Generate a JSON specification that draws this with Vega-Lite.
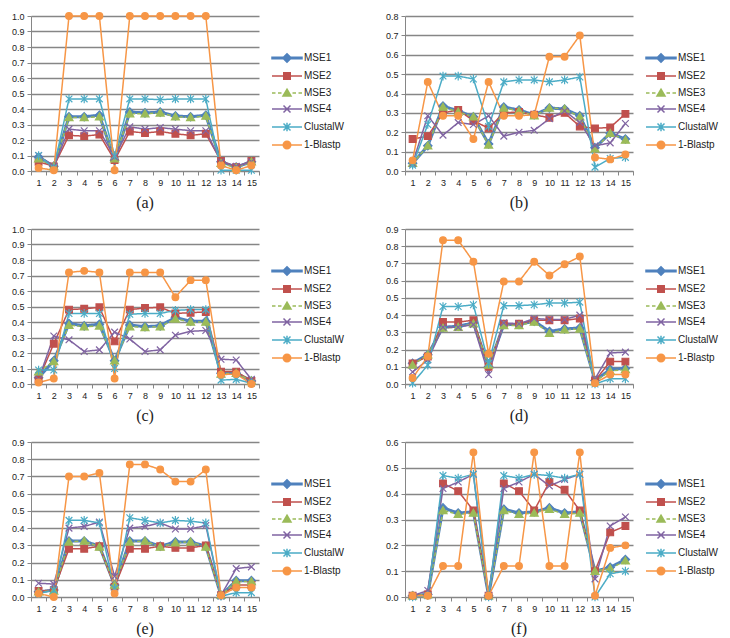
{
"$schema": "https://vega.github.io/schema/vega-lite/v6.json",
"padding": {"left": 11, "top": 10, "right": 5, "bottom": 0},
"background": "white",
"datasets": {
"a": [
{"x":1,"s":"MSE1","v":0.09},{"x":2,"s":"MSE1","v":0.03},{"x":3,"s":"MSE1","v":0.35},{"x":4,"s":"MSE1","v":0.35},{"x":5,"s":"MSE1","v":0.36},{"x":6,"s":"MSE1","v":0.07},{"x":7,"s":"MSE1","v":0.38},{"x":8,"s":"MSE1","v":0.375},{"x":9,"s":"MSE1","v":0.38},{"x":10,"s":"MSE1","v":0.355},{"x":11,"s":"MSE1","v":0.35},{"x":12,"s":"MSE1","v":0.36},{"x":13,"s":"MSE1","v":0.06},{"x":14,"s":"MSE1","v":0.025},{"x":15,"s":"MSE1","v":0.06},
{"x":1,"s":"MSE2","v":0.06},{"x":2,"s":"MSE2","v":0.03},{"x":3,"s":"MSE2","v":0.23},{"x":4,"s":"MSE2","v":0.225},{"x":5,"s":"MSE2","v":0.235},{"x":6,"s":"MSE2","v":0.07},{"x":7,"s":"MSE2","v":0.255},{"x":8,"s":"MSE2","v":0.245},{"x":9,"s":"MSE2","v":0.255},{"x":10,"s":"MSE2","v":0.24},{"x":11,"s":"MSE2","v":0.23},{"x":12,"s":"MSE2","v":0.24},{"x":13,"s":"MSE2","v":0.065},{"x":14,"s":"MSE2","v":0.025},{"x":15,"s":"MSE2","v":0.065},
{"x":1,"s":"MSE3","v":0.08},{"x":2,"s":"MSE3","v":0.03},{"x":3,"s":"MSE3","v":0.345},{"x":4,"s":"MSE3","v":0.345},{"x":5,"s":"MSE3","v":0.35},{"x":6,"s":"MSE3","v":0.08},{"x":7,"s":"MSE3","v":0.37},{"x":8,"s":"MSE3","v":0.37},{"x":9,"s":"MSE3","v":0.375},{"x":10,"s":"MSE3","v":0.35},{"x":11,"s":"MSE3","v":0.345},{"x":12,"s":"MSE3","v":0.355},{"x":13,"s":"MSE3","v":0.05},{"x":14,"s":"MSE3","v":0.02},{"x":15,"s":"MSE3","v":0.06},
{"x":1,"s":"MSE4","v":0.1},{"x":2,"s":"MSE4","v":0.03},{"x":3,"s":"MSE4","v":0.27},{"x":4,"s":"MSE4","v":0.26},{"x":5,"s":"MSE4","v":0.26},{"x":6,"s":"MSE4","v":0.09},{"x":7,"s":"MSE4","v":0.285},{"x":8,"s":"MSE4","v":0.27},{"x":9,"s":"MSE4","v":0.28},{"x":10,"s":"MSE4","v":0.27},{"x":11,"s":"MSE4","v":0.26},{"x":12,"s":"MSE4","v":0.26},{"x":13,"s":"MSE4","v":0.06},{"x":14,"s":"MSE4","v":0.03},{"x":15,"s":"MSE4","v":0.06},
{"x":1,"s":"ClustalW","v":0.1},{"x":2,"s":"ClustalW","v":0.02},{"x":3,"s":"ClustalW","v":0.465},{"x":4,"s":"ClustalW","v":0.465},{"x":5,"s":"ClustalW","v":0.465},{"x":6,"s":"ClustalW","v":0.1},{"x":7,"s":"ClustalW","v":0.465},{"x":8,"s":"ClustalW","v":0.465},{"x":9,"s":"ClustalW","v":0.46},{"x":10,"s":"ClustalW","v":0.465},{"x":11,"s":"ClustalW","v":0.465},{"x":12,"s":"ClustalW","v":0.465},{"x":13,"s":"ClustalW","v":0.005},{"x":14,"s":"ClustalW","v":0.005},{"x":15,"s":"ClustalW","v":0.005},
{"x":1,"s":"1-Blastp","v":0.02},{"x":2,"s":"1-Blastp","v":0.005},{"x":3,"s":"1-Blastp","v":1},{"x":4,"s":"1-Blastp","v":1},{"x":5,"s":"1-Blastp","v":1},{"x":6,"s":"1-Blastp","v":0.005},{"x":7,"s":"1-Blastp","v":1},{"x":8,"s":"1-Blastp","v":1},{"x":9,"s":"1-Blastp","v":1},{"x":10,"s":"1-Blastp","v":1},{"x":11,"s":"1-Blastp","v":1},{"x":12,"s":"1-Blastp","v":1},{"x":13,"s":"1-Blastp","v":0.035},{"x":14,"s":"1-Blastp","v":0.005},{"x":15,"s":"1-Blastp","v":0.035}
],
"b": [
{"x":1,"s":"MSE1","v":0.04},{"x":2,"s":"MSE1","v":0.13},{"x":3,"s":"MSE1","v":0.335},{"x":4,"s":"MSE1","v":0.31},{"x":5,"s":"MSE1","v":0.28},{"x":6,"s":"MSE1","v":0.14},{"x":7,"s":"MSE1","v":0.33},{"x":8,"s":"MSE1","v":0.315},{"x":9,"s":"MSE1","v":0.29},{"x":10,"s":"MSE1","v":0.325},{"x":11,"s":"MSE1","v":0.32},{"x":12,"s":"MSE1","v":0.285},{"x":13,"s":"MSE1","v":0.12},{"x":14,"s":"MSE1","v":0.195},{"x":15,"s":"MSE1","v":0.165},
{"x":1,"s":"MSE2","v":0.165},{"x":2,"s":"MSE2","v":0.18},{"x":3,"s":"MSE2","v":0.3},{"x":4,"s":"MSE2","v":0.315},{"x":5,"s":"MSE2","v":0.26},{"x":6,"s":"MSE2","v":0.22},{"x":7,"s":"MSE2","v":0.3},{"x":8,"s":"MSE2","v":0.305},{"x":9,"s":"MSE2","v":0.29},{"x":10,"s":"MSE2","v":0.275},{"x":11,"s":"MSE2","v":0.3},{"x":12,"s":"MSE2","v":0.23},{"x":13,"s":"MSE2","v":0.22},{"x":14,"s":"MSE2","v":0.225},{"x":15,"s":"MSE2","v":0.295},
{"x":1,"s":"MSE3","v":0.04},{"x":2,"s":"MSE3","v":0.13},{"x":3,"s":"MSE3","v":0.33},{"x":4,"s":"MSE3","v":0.305},{"x":5,"s":"MSE3","v":0.28},{"x":6,"s":"MSE3","v":0.135},{"x":7,"s":"MSE3","v":0.325},{"x":8,"s":"MSE3","v":0.31},{"x":9,"s":"MSE3","v":0.285},{"x":10,"s":"MSE3","v":0.325},{"x":11,"s":"MSE3","v":0.32},{"x":12,"s":"MSE3","v":0.28},{"x":13,"s":"MSE3","v":0.115},{"x":14,"s":"MSE3","v":0.195},{"x":15,"s":"MSE3","v":0.16},
{"x":1,"s":"MSE4","v":0.04},{"x":2,"s":"MSE4","v":0.285},{"x":3,"s":"MSE4","v":0.185},{"x":4,"s":"MSE4","v":0.25},{"x":5,"s":"MSE4","v":0.24},{"x":6,"s":"MSE4","v":0.285},{"x":7,"s":"MSE4","v":0.18},{"x":8,"s":"MSE4","v":0.2},{"x":9,"s":"MSE4","v":0.21},{"x":10,"s":"MSE4","v":0.27},{"x":11,"s":"MSE4","v":0.31},{"x":12,"s":"MSE4","v":0.25},{"x":13,"s":"MSE4","v":0.13},{"x":14,"s":"MSE4","v":0.145},{"x":15,"s":"MSE4","v":0.245},
{"x":1,"s":"ClustalW","v":0.03},{"x":2,"s":"ClustalW","v":0.24},{"x":3,"s":"ClustalW","v":0.49},{"x":4,"s":"ClustalW","v":0.49},{"x":5,"s":"ClustalW","v":0.475},{"x":6,"s":"ClustalW","v":0.23},{"x":7,"s":"ClustalW","v":0.46},{"x":8,"s":"ClustalW","v":0.47},{"x":9,"s":"ClustalW","v":0.47},{"x":10,"s":"ClustalW","v":0.46},{"x":11,"s":"ClustalW","v":0.47},{"x":12,"s":"ClustalW","v":0.485},{"x":13,"s":"ClustalW","v":0.02},{"x":14,"s":"ClustalW","v":0.065},{"x":15,"s":"ClustalW","v":0.07},
{"x":1,"s":"1-Blastp","v":0.055},{"x":2,"s":"1-Blastp","v":0.46},{"x":3,"s":"1-Blastp","v":0.285},{"x":4,"s":"1-Blastp","v":0.285},{"x":5,"s":"1-Blastp","v":0.165},{"x":6,"s":"1-Blastp","v":0.46},{"x":7,"s":"1-Blastp","v":0.285},{"x":8,"s":"1-Blastp","v":0.285},{"x":9,"s":"1-Blastp","v":0.29},{"x":10,"s":"1-Blastp","v":0.59},{"x":11,"s":"1-Blastp","v":0.59},{"x":12,"s":"1-Blastp","v":0.7},{"x":13,"s":"1-Blastp","v":0.07},{"x":14,"s":"1-Blastp","v":0.06},{"x":15,"s":"1-Blastp","v":0.085}
],
"c": [
{"x":1,"s":"MSE1","v":0.04},{"x":2,"s":"MSE1","v":0.15},{"x":3,"s":"MSE1","v":0.39},{"x":4,"s":"MSE1","v":0.375},{"x":5,"s":"MSE1","v":0.385},{"x":6,"s":"MSE1","v":0.15},{"x":7,"s":"MSE1","v":0.38},{"x":8,"s":"MSE1","v":0.37},{"x":9,"s":"MSE1","v":0.375},{"x":10,"s":"MSE1","v":0.43},{"x":11,"s":"MSE1","v":0.405},{"x":12,"s":"MSE1","v":0.405},{"x":13,"s":"MSE1","v":0.07},{"x":14,"s":"MSE1","v":0.07},{"x":15,"s":"MSE1","v":0.02},
{"x":1,"s":"MSE2","v":0.03},{"x":2,"s":"MSE2","v":0.26},{"x":3,"s":"MSE2","v":0.48},{"x":4,"s":"MSE2","v":0.485},{"x":5,"s":"MSE2","v":0.495},{"x":6,"s":"MSE2","v":0.275},{"x":7,"s":"MSE2","v":0.48},{"x":8,"s":"MSE2","v":0.49},{"x":9,"s":"MSE2","v":0.495},{"x":10,"s":"MSE2","v":0.455},{"x":11,"s":"MSE2","v":0.46},{"x":12,"s":"MSE2","v":0.465},{"x":13,"s":"MSE2","v":0.08},{"x":14,"s":"MSE2","v":0.08},{"x":15,"s":"MSE2","v":0.02},
{"x":1,"s":"MSE3","v":0.08},{"x":2,"s":"MSE3","v":0.145},{"x":3,"s":"MSE3","v":0.38},{"x":4,"s":"MSE3","v":0.37},{"x":5,"s":"MSE3","v":0.375},{"x":6,"s":"MSE3","v":0.15},{"x":7,"s":"MSE3","v":0.37},{"x":8,"s":"MSE3","v":0.365},{"x":9,"s":"MSE3","v":0.37},{"x":10,"s":"MSE3","v":0.42},{"x":11,"s":"MSE3","v":0.4},{"x":12,"s":"MSE3","v":0.4},{"x":13,"s":"MSE3","v":0.065},{"x":14,"s":"MSE3","v":0.07},{"x":15,"s":"MSE3","v":0.02},
{"x":1,"s":"MSE4","v":0.03},{"x":2,"s":"MSE4","v":0.31},{"x":3,"s":"MSE4","v":0.285},{"x":4,"s":"MSE4","v":0.21},{"x":5,"s":"MSE4","v":0.22},{"x":6,"s":"MSE4","v":0.335},{"x":7,"s":"MSE4","v":0.29},{"x":8,"s":"MSE4","v":0.21},{"x":9,"s":"MSE4","v":0.22},{"x":10,"s":"MSE4","v":0.315},{"x":11,"s":"MSE4","v":0.34},{"x":12,"s":"MSE4","v":0.345},{"x":13,"s":"MSE4","v":0.16},{"x":14,"s":"MSE4","v":0.155},{"x":15,"s":"MSE4","v":0.03},
{"x":1,"s":"ClustalW","v":0.09},{"x":2,"s":"ClustalW","v":0.09},{"x":3,"s":"ClustalW","v":0.455},{"x":4,"s":"ClustalW","v":0.455},{"x":5,"s":"ClustalW","v":0.455},{"x":6,"s":"ClustalW","v":0.1},{"x":7,"s":"ClustalW","v":0.45},{"x":8,"s":"ClustalW","v":0.455},{"x":9,"s":"ClustalW","v":0.455},{"x":10,"s":"ClustalW","v":0.475},{"x":11,"s":"ClustalW","v":0.48},{"x":12,"s":"ClustalW","v":0.48},{"x":13,"s":"ClustalW","v":0.025},{"x":14,"s":"ClustalW","v":0.03},{"x":15,"s":"ClustalW","v":0.005},
{"x":1,"s":"1-Blastp","v":0.01},{"x":2,"s":"1-Blastp","v":0.035},{"x":3,"s":"1-Blastp","v":0.72},{"x":4,"s":"1-Blastp","v":0.73},{"x":5,"s":"1-Blastp","v":0.72},{"x":6,"s":"1-Blastp","v":0.035},{"x":7,"s":"1-Blastp","v":0.72},{"x":8,"s":"1-Blastp","v":0.72},{"x":9,"s":"1-Blastp","v":0.72},{"x":10,"s":"1-Blastp","v":0.56},{"x":11,"s":"1-Blastp","v":0.67},{"x":12,"s":"1-Blastp","v":0.67},{"x":13,"s":"1-Blastp","v":0.06},{"x":14,"s":"1-Blastp","v":0.065},{"x":15,"s":"1-Blastp","v":0.0}
],
"d": [
{"x":1,"s":"MSE1","v":0.12},{"x":2,"s":"MSE1","v":0.17},{"x":3,"s":"MSE1","v":0.33},{"x":4,"s":"MSE1","v":0.335},{"x":5,"s":"MSE1","v":0.355},{"x":6,"s":"MSE1","v":0.1},{"x":7,"s":"MSE1","v":0.345},{"x":8,"s":"MSE1","v":0.345},{"x":9,"s":"MSE1","v":0.365},{"x":10,"s":"MSE1","v":0.305},{"x":11,"s":"MSE1","v":0.32},{"x":12,"s":"MSE1","v":0.325},{"x":13,"s":"MSE1","v":0.02},{"x":14,"s":"MSE1","v":0.085},{"x":15,"s":"MSE1","v":0.09},
{"x":1,"s":"MSE2","v":0.12},{"x":2,"s":"MSE2","v":0.16},{"x":3,"s":"MSE2","v":0.36},{"x":4,"s":"MSE2","v":0.36},{"x":5,"s":"MSE2","v":0.37},{"x":6,"s":"MSE2","v":0.1},{"x":7,"s":"MSE2","v":0.35},{"x":8,"s":"MSE2","v":0.35},{"x":9,"s":"MSE2","v":0.37},{"x":10,"s":"MSE2","v":0.37},{"x":11,"s":"MSE2","v":0.37},{"x":12,"s":"MSE2","v":0.38},{"x":13,"s":"MSE2","v":0.02},{"x":14,"s":"MSE2","v":0.13},{"x":15,"s":"MSE2","v":0.13},
{"x":1,"s":"MSE3","v":0.11},{"x":2,"s":"MSE3","v":0.17},{"x":3,"s":"MSE3","v":0.325},{"x":4,"s":"MSE3","v":0.33},{"x":5,"s":"MSE3","v":0.35},{"x":6,"s":"MSE3","v":0.11},{"x":7,"s":"MSE3","v":0.34},{"x":8,"s":"MSE3","v":0.34},{"x":9,"s":"MSE3","v":0.36},{"x":10,"s":"MSE3","v":0.295},{"x":11,"s":"MSE3","v":0.315},{"x":12,"s":"MSE3","v":0.32},{"x":13,"s":"MSE3","v":0.015},{"x":14,"s":"MSE3","v":0.075},{"x":15,"s":"MSE3","v":0.085},
{"x":1,"s":"MSE4","v":0.07},{"x":2,"s":"MSE4","v":0.14},{"x":3,"s":"MSE4","v":0.33},{"x":4,"s":"MSE4","v":0.33},{"x":5,"s":"MSE4","v":0.345},{"x":6,"s":"MSE4","v":0.055},{"x":7,"s":"MSE4","v":0.355},{"x":8,"s":"MSE4","v":0.35},{"x":9,"s":"MSE4","v":0.38},{"x":10,"s":"MSE4","v":0.375},{"x":11,"s":"MSE4","v":0.375},{"x":12,"s":"MSE4","v":0.4},{"x":13,"s":"MSE4","v":0.03},{"x":14,"s":"MSE4","v":0.18},{"x":15,"s":"MSE4","v":0.185},
{"x":1,"s":"ClustalW","v":0.005},{"x":2,"s":"ClustalW","v":0.11},{"x":3,"s":"ClustalW","v":0.45},{"x":4,"s":"ClustalW","v":0.45},{"x":5,"s":"ClustalW","v":0.46},{"x":6,"s":"ClustalW","v":0.12},{"x":7,"s":"ClustalW","v":0.455},{"x":8,"s":"ClustalW","v":0.455},{"x":9,"s":"ClustalW","v":0.46},{"x":10,"s":"ClustalW","v":0.47},{"x":11,"s":"ClustalW","v":0.47},{"x":12,"s":"ClustalW","v":0.475},{"x":13,"s":"ClustalW","v":0.0},{"x":14,"s":"ClustalW","v":0.03},{"x":15,"s":"ClustalW","v":0.03},
{"x":1,"s":"1-Blastp","v":0.035},{"x":2,"s":"1-Blastp","v":0.16},{"x":3,"s":"1-Blastp","v":0.835},{"x":4,"s":"1-Blastp","v":0.835},{"x":5,"s":"1-Blastp","v":0.71},{"x":6,"s":"1-Blastp","v":0.175},{"x":7,"s":"1-Blastp","v":0.595},{"x":8,"s":"1-Blastp","v":0.595},{"x":9,"s":"1-Blastp","v":0.71},{"x":10,"s":"1-Blastp","v":0.63},{"x":11,"s":"1-Blastp","v":0.695},{"x":12,"s":"1-Blastp","v":0.74},{"x":13,"s":"1-Blastp","v":0.005},{"x":14,"s":"1-Blastp","v":0.055},{"x":15,"s":"1-Blastp","v":0.055}
],
"e": [
{"x":1,"s":"MSE1","v":0.03},{"x":2,"s":"MSE1","v":0.04},{"x":3,"s":"MSE1","v":0.325},{"x":4,"s":"MSE1","v":0.325},{"x":5,"s":"MSE1","v":0.295},{"x":6,"s":"MSE1","v":0.07},{"x":7,"s":"MSE1","v":0.325},{"x":8,"s":"MSE1","v":0.325},{"x":9,"s":"MSE1","v":0.295},{"x":10,"s":"MSE1","v":0.32},{"x":11,"s":"MSE1","v":0.32},{"x":12,"s":"MSE1","v":0.295},{"x":13,"s":"MSE1","v":0.01},{"x":14,"s":"MSE1","v":0.095},{"x":15,"s":"MSE1","v":0.095},
{"x":1,"s":"MSE2","v":0.035},{"x":2,"s":"MSE2","v":0.04},{"x":3,"s":"MSE2","v":0.28},{"x":4,"s":"MSE2","v":0.28},{"x":5,"s":"MSE2","v":0.295},{"x":6,"s":"MSE2","v":0.06},{"x":7,"s":"MSE2","v":0.28},{"x":8,"s":"MSE2","v":0.28},{"x":9,"s":"MSE2","v":0.295},{"x":10,"s":"MSE2","v":0.285},{"x":11,"s":"MSE2","v":0.285},{"x":12,"s":"MSE2","v":0.3},{"x":13,"s":"MSE2","v":0.01},{"x":14,"s":"MSE2","v":0.07},{"x":15,"s":"MSE2","v":0.07},
{"x":1,"s":"MSE3","v":0.03},{"x":2,"s":"MSE3","v":0.035},{"x":3,"s":"MSE3","v":0.32},{"x":4,"s":"MSE3","v":0.325},{"x":5,"s":"MSE3","v":0.29},{"x":6,"s":"MSE3","v":0.07},{"x":7,"s":"MSE3","v":0.32},{"x":8,"s":"MSE3","v":0.325},{"x":9,"s":"MSE3","v":0.29},{"x":10,"s":"MSE3","v":0.315},{"x":11,"s":"MSE3","v":0.32},{"x":12,"s":"MSE3","v":0.29},{"x":13,"s":"MSE3","v":0.01},{"x":14,"s":"MSE3","v":0.09},{"x":15,"s":"MSE3","v":0.09},
{"x":1,"s":"MSE4","v":0.08},{"x":2,"s":"MSE4","v":0.075},{"x":3,"s":"MSE4","v":0.4},{"x":4,"s":"MSE4","v":0.41},{"x":5,"s":"MSE4","v":0.435},{"x":6,"s":"MSE4","v":0.12},{"x":7,"s":"MSE4","v":0.4},{"x":8,"s":"MSE4","v":0.41},{"x":9,"s":"MSE4","v":0.43},{"x":10,"s":"MSE4","v":0.395},{"x":11,"s":"MSE4","v":0.395},{"x":12,"s":"MSE4","v":0.415},{"x":13,"s":"MSE4","v":0.01},{"x":14,"s":"MSE4","v":0.165},{"x":15,"s":"MSE4","v":0.175},
{"x":1,"s":"ClustalW","v":0.02},{"x":2,"s":"ClustalW","v":0.04},{"x":3,"s":"ClustalW","v":0.445},{"x":4,"s":"ClustalW","v":0.445},{"x":5,"s":"ClustalW","v":0.43},{"x":6,"s":"ClustalW","v":0.05},{"x":7,"s":"ClustalW","v":0.46},{"x":8,"s":"ClustalW","v":0.445},{"x":9,"s":"ClustalW","v":0.43},{"x":10,"s":"ClustalW","v":0.445},{"x":11,"s":"ClustalW","v":0.44},{"x":12,"s":"ClustalW","v":0.43},{"x":13,"s":"ClustalW","v":0.005},{"x":14,"s":"ClustalW","v":0.025},{"x":15,"s":"ClustalW","v":0.025},
{"x":1,"s":"1-Blastp","v":0.02},{"x":2,"s":"1-Blastp","v":0.0},{"x":3,"s":"1-Blastp","v":0.7},{"x":4,"s":"1-Blastp","v":0.7},{"x":5,"s":"1-Blastp","v":0.72},{"x":6,"s":"1-Blastp","v":0.02},{"x":7,"s":"1-Blastp","v":0.77},{"x":8,"s":"1-Blastp","v":0.77},{"x":9,"s":"1-Blastp","v":0.74},{"x":10,"s":"1-Blastp","v":0.67},{"x":11,"s":"1-Blastp","v":0.67},{"x":12,"s":"1-Blastp","v":0.74},{"x":13,"s":"1-Blastp","v":0.01},{"x":14,"s":"1-Blastp","v":0.055},{"x":15,"s":"1-Blastp","v":0.055}
],
"f": [
{"x":1,"s":"MSE1","v":0.005},{"x":2,"s":"MSE1","v":0.01},{"x":3,"s":"MSE1","v":0.345},{"x":4,"s":"MSE1","v":0.325},{"x":5,"s":"MSE1","v":0.33},{"x":6,"s":"MSE1","v":0.005},{"x":7,"s":"MSE1","v":0.34},{"x":8,"s":"MSE1","v":0.325},{"x":9,"s":"MSE1","v":0.33},{"x":10,"s":"MSE1","v":0.345},{"x":11,"s":"MSE1","v":0.325},{"x":12,"s":"MSE1","v":0.33},{"x":13,"s":"MSE1","v":0.1},{"x":14,"s":"MSE1","v":0.115},{"x":15,"s":"MSE1","v":0.145},
{"x":1,"s":"MSE2","v":0.005},{"x":2,"s":"MSE2","v":0.01},{"x":3,"s":"MSE2","v":0.44},{"x":4,"s":"MSE2","v":0.41},{"x":5,"s":"MSE2","v":0.335},{"x":6,"s":"MSE2","v":0.005},{"x":7,"s":"MSE2","v":0.44},{"x":8,"s":"MSE2","v":0.41},{"x":9,"s":"MSE2","v":0.335},{"x":10,"s":"MSE2","v":0.445},{"x":11,"s":"MSE2","v":0.415},{"x":12,"s":"MSE2","v":0.335},{"x":13,"s":"MSE2","v":0.1},{"x":14,"s":"MSE2","v":0.25},{"x":15,"s":"MSE2","v":0.275},
{"x":1,"s":"MSE3","v":0.005},{"x":2,"s":"MSE3","v":0.01},{"x":3,"s":"MSE3","v":0.335},{"x":4,"s":"MSE3","v":0.32},{"x":5,"s":"MSE3","v":0.325},{"x":6,"s":"MSE3","v":0.005},{"x":7,"s":"MSE3","v":0.335},{"x":8,"s":"MSE3","v":0.32},{"x":9,"s":"MSE3","v":0.325},{"x":10,"s":"MSE3","v":0.34},{"x":11,"s":"MSE3","v":0.32},{"x":12,"s":"MSE3","v":0.325},{"x":13,"s":"MSE3","v":0.1},{"x":14,"s":"MSE3","v":0.11},{"x":15,"s":"MSE3","v":0.14},
{"x":1,"s":"MSE4","v":0.005},{"x":2,"s":"MSE4","v":0.025},{"x":3,"s":"MSE4","v":0.42},{"x":4,"s":"MSE4","v":0.445},{"x":5,"s":"MSE4","v":0.475},{"x":6,"s":"MSE4","v":0.005},{"x":7,"s":"MSE4","v":0.42},{"x":8,"s":"MSE4","v":0.445},{"x":9,"s":"MSE4","v":0.475},{"x":10,"s":"MSE4","v":0.43},{"x":11,"s":"MSE4","v":0.455},{"x":12,"s":"MSE4","v":0.475},{"x":13,"s":"MSE4","v":0.07},{"x":14,"s":"MSE4","v":0.275},{"x":15,"s":"MSE4","v":0.31},
{"x":1,"s":"ClustalW","v":0.0},{"x":2,"s":"ClustalW","v":0.005},{"x":3,"s":"ClustalW","v":0.47},{"x":4,"s":"ClustalW","v":0.46},{"x":5,"s":"ClustalW","v":0.475},{"x":6,"s":"ClustalW","v":0.0},{"x":7,"s":"ClustalW","v":0.47},{"x":8,"s":"ClustalW","v":0.46},{"x":9,"s":"ClustalW","v":0.475},{"x":10,"s":"ClustalW","v":0.47},{"x":11,"s":"ClustalW","v":0.46},{"x":12,"s":"ClustalW","v":0.475},{"x":13,"s":"ClustalW","v":0.0},{"x":14,"s":"ClustalW","v":0.09},{"x":15,"s":"ClustalW","v":0.1},
{"x":1,"s":"1-Blastp","v":0.005},{"x":2,"s":"1-Blastp","v":0.005},{"x":3,"s":"1-Blastp","v":0.12},{"x":4,"s":"1-Blastp","v":0.12},{"x":5,"s":"1-Blastp","v":0.56},{"x":6,"s":"1-Blastp","v":0.005},{"x":7,"s":"1-Blastp","v":0.12},{"x":8,"s":"1-Blastp","v":0.12},{"x":9,"s":"1-Blastp","v":0.56},{"x":10,"s":"1-Blastp","v":0.12},{"x":11,"s":"1-Blastp","v":0.12},{"x":12,"s":"1-Blastp","v":0.56},{"x":13,"s":"1-Blastp","v":0.005},{"x":14,"s":"1-Blastp","v":0.19},{"x":15,"s":"1-Blastp","v":0.2}
]
},
"columns": 2,
"spacing": {"row": 14, "column": 40},
"resolve": {"scale": {"color": "independent", "stroke": "independent", "shape": "independent"}, "legend": {"color": "independent", "stroke": "independent", "shape": "independent"}},
"concat": [
{"data": {"name": "a"}, "title": "(a)", "width": 228, "height": 155,
 "encoding": {
  "x": {"field": "x", "type": "ordinal", "scale": {"type": "band", "domain": [1,2,3,4,5,6,7,8,9,10,11,12,13,14,15], "paddingInner": 0, "paddingOuter": 0}, "axis": {"title": null, "labelAngle": 0, "tickBand": "extent"}},
  "y": {"field": "v", "type": "quantitative", "scale": {"domain": [0, 1], "nice": false}, "axis": {"title": null, "values": [0,0.1,0.2,0.3,0.4,0.5,0.6,0.7,0.8,0.9,1.0], "format": ".1f"}}
 },
 "layer": [
  {"mark": {"type": "line", "strokeJoin": "round"}, "encoding": {
    "color": {"field": "s", "type": "nominal", "scale": {"domain": ["MSE1","MSE2","MSE3","MSE4","ClustalW","1-Blastp"], "range": ["#4F81BD","#C0504D","#9BBB59","#8064A2","#4BACC6","#F79646"]}},
    "strokeWidth": {"condition": {"test": "datum.s==='MSE1'", "value": 3}, "value": 1.5},
    "strokeDash": {"condition": {"test": "datum.s==='MSE3'", "value": [4,2]}, "value": [1,0]}
  }},
  {"mark": {"type": "point", "filled": true, "size": 45, "strokeWidth": 1.2, "opacity": 1}, "encoding": {
    "color": {"field": "s", "type": "nominal"},
    "stroke": {"field": "s", "type": "nominal", "scale": {"domain": ["MSE1","MSE2","MSE3","MSE4","ClustalW","1-Blastp"], "range": ["#4F81BD","#C0504D","#9BBB59","#8064A2","#4BACC6","#F79646"]}},
    "shape": {"condition": [{"test": "datum.s==='MSE1'", "value": "M0,-1.25L1.25,0L0,1.25L-1.25,0Z"}, {"test": "datum.s==='MSE2'", "value": "M-1,-1H1V1H-1Z"}, {"test": "datum.s==='MSE3'", "value": "M0,-1.15L1.2,0.95H-1.2Z"}, {"test": "datum.s==='MSE4'", "value": "M-1,-1L1,1M-1,1L1,-1"}, {"test": "datum.s==='ClustalW'", "value": "M-1,-1L1,1M-1,1L1,-1M0,-1.3V1.3"}], "value": "circle"}
  }},
  {"transform": [{"filter": "false"}], "mark": {"type": "point", "filled": true}, "encoding": {
    "color": {"field": "s", "type": "nominal", "legend": {"title": null, "orient": "none", "legendX": 250, "legendY": 36}},
    "stroke": {"field": "s", "type": "nominal", "legend": {"title": null, "orient": "none", "legendX": 250, "legendY": 36}},
    "shape": {"field": "s", "type": "nominal", "scale": {"domain": ["MSE1","MSE2","MSE3","MSE4","ClustalW","1-Blastp"], "range": ["M-3,-0.15H3V0.15H-3Z M0,-0.85L0.85,0L0,0.85L-0.85,0Z","M-3,0H3M-0.65,-0.65H0.65V0.65H-0.65Z","M-3,0H-2.3M-1.8,0H-1.1M1.1,0H1.8M2.3,0H3M0,-0.75L0.8,0.6H-0.8Z","M-3,0H3M-0.7,-0.7L0.7,0.7M-0.7,0.7L0.7,-0.7","M-3,0H3M-0.7,-0.7L0.7,0.7M-0.7,0.7L0.7,-0.7M0,-0.85V0.85","M-3,0H3M0.75,0A0.75,0.75,0,1,1,-0.75,0A0.75,0.75,0,1,1,0.75,0Z"]}, "legend": {"title": null, "orient": "none", "legendX": 250, "legendY": 36}}
  }}
 ]
},
{"data": {"name": "b"}, "title": "(b)", "width": 228, "height": 155,
 "encoding": {
  "x": {"field": "x", "type": "ordinal", "scale": {"type": "band", "domain": [1,2,3,4,5,6,7,8,9,10,11,12,13,14,15], "paddingInner": 0, "paddingOuter": 0}, "axis": {"title": null, "labelAngle": 0, "tickBand": "extent"}},
  "y": {"field": "v", "type": "quantitative", "scale": {"domain": [0, 0.8], "nice": false}, "axis": {"title": null, "values": [0,0.1,0.2,0.3,0.4,0.5,0.6,0.7,0.8], "format": ".1f"}}
 },
 "layer": [
  {"mark": {"type": "line", "strokeJoin": "round"}, "encoding": {
    "color": {"field": "s", "type": "nominal", "scale": {"domain": ["MSE1","MSE2","MSE3","MSE4","ClustalW","1-Blastp"], "range": ["#4F81BD","#C0504D","#9BBB59","#8064A2","#4BACC6","#F79646"]}},
    "strokeWidth": {"condition": {"test": "datum.s==='MSE1'", "value": 3}, "value": 1.5},
    "strokeDash": {"condition": {"test": "datum.s==='MSE3'", "value": [4,2]}, "value": [1,0]}
  }},
  {"mark": {"type": "point", "filled": true, "size": 45, "strokeWidth": 1.2, "opacity": 1}, "encoding": {
    "color": {"field": "s", "type": "nominal"},
    "stroke": {"field": "s", "type": "nominal", "scale": {"domain": ["MSE1","MSE2","MSE3","MSE4","ClustalW","1-Blastp"], "range": ["#4F81BD","#C0504D","#9BBB59","#8064A2","#4BACC6","#F79646"]}},
    "shape": {"condition": [{"test": "datum.s==='MSE1'", "value": "M0,-1.25L1.25,0L0,1.25L-1.25,0Z"}, {"test": "datum.s==='MSE2'", "value": "M-1,-1H1V1H-1Z"}, {"test": "datum.s==='MSE3'", "value": "M0,-1.15L1.2,0.95H-1.2Z"}, {"test": "datum.s==='MSE4'", "value": "M-1,-1L1,1M-1,1L1,-1"}, {"test": "datum.s==='ClustalW'", "value": "M-1,-1L1,1M-1,1L1,-1M0,-1.3V1.3"}], "value": "circle"}
  }},
  {"transform": [{"filter": "false"}], "mark": {"type": "point", "filled": true}, "encoding": {
    "color": {"field": "s", "type": "nominal", "legend": {"title": null, "orient": "none", "legendX": 250, "legendY": 36}},
    "stroke": {"field": "s", "type": "nominal", "legend": {"title": null, "orient": "none", "legendX": 250, "legendY": 36}},
    "shape": {"field": "s", "type": "nominal", "scale": {"domain": ["MSE1","MSE2","MSE3","MSE4","ClustalW","1-Blastp"], "range": ["M-3,-0.15H3V0.15H-3Z M0,-0.85L0.85,0L0,0.85L-0.85,0Z","M-3,0H3M-0.65,-0.65H0.65V0.65H-0.65Z","M-3,0H-2.3M-1.8,0H-1.1M1.1,0H1.8M2.3,0H3M0,-0.75L0.8,0.6H-0.8Z","M-3,0H3M-0.7,-0.7L0.7,0.7M-0.7,0.7L0.7,-0.7","M-3,0H3M-0.7,-0.7L0.7,0.7M-0.7,0.7L0.7,-0.7M0,-0.85V0.85","M-3,0H3M0.75,0A0.75,0.75,0,1,1,-0.75,0A0.75,0.75,0,1,1,0.75,0Z"]}, "legend": {"title": null, "orient": "none", "legendX": 250, "legendY": 36}}
  }}
 ]
},
{"data": {"name": "c"}, "title": "(c)", "width": 228, "height": 155,
 "encoding": {
  "x": {"field": "x", "type": "ordinal", "scale": {"type": "band", "domain": [1,2,3,4,5,6,7,8,9,10,11,12,13,14,15], "paddingInner": 0, "paddingOuter": 0}, "axis": {"title": null, "labelAngle": 0, "tickBand": "extent"}},
  "y": {"field": "v", "type": "quantitative", "scale": {"domain": [0, 1], "nice": false}, "axis": {"title": null, "values": [0,0.1,0.2,0.3,0.4,0.5,0.6,0.7,0.8,0.9,1.0], "format": ".1f"}}
 },
 "layer": [
  {"mark": {"type": "line", "strokeJoin": "round"}, "encoding": {
    "color": {"field": "s", "type": "nominal", "scale": {"domain": ["MSE1","MSE2","MSE3","MSE4","ClustalW","1-Blastp"], "range": ["#4F81BD","#C0504D","#9BBB59","#8064A2","#4BACC6","#F79646"]}},
    "strokeWidth": {"condition": {"test": "datum.s==='MSE1'", "value": 3}, "value": 1.5},
    "strokeDash": {"condition": {"test": "datum.s==='MSE3'", "value": [4,2]}, "value": [1,0]}
  }},
  {"mark": {"type": "point", "filled": true, "size": 45, "strokeWidth": 1.2, "opacity": 1}, "encoding": {
    "color": {"field": "s", "type": "nominal"},
    "stroke": {"field": "s", "type": "nominal", "scale": {"domain": ["MSE1","MSE2","MSE3","MSE4","ClustalW","1-Blastp"], "range": ["#4F81BD","#C0504D","#9BBB59","#8064A2","#4BACC6","#F79646"]}},
    "shape": {"condition": [{"test": "datum.s==='MSE1'", "value": "M0,-1.25L1.25,0L0,1.25L-1.25,0Z"}, {"test": "datum.s==='MSE2'", "value": "M-1,-1H1V1H-1Z"}, {"test": "datum.s==='MSE3'", "value": "M0,-1.15L1.2,0.95H-1.2Z"}, {"test": "datum.s==='MSE4'", "value": "M-1,-1L1,1M-1,1L1,-1"}, {"test": "datum.s==='ClustalW'", "value": "M-1,-1L1,1M-1,1L1,-1M0,-1.3V1.3"}], "value": "circle"}
  }},
  {"transform": [{"filter": "false"}], "mark": {"type": "point", "filled": true}, "encoding": {
    "color": {"field": "s", "type": "nominal", "legend": {"title": null, "orient": "none", "legendX": 250, "legendY": 36}},
    "stroke": {"field": "s", "type": "nominal", "legend": {"title": null, "orient": "none", "legendX": 250, "legendY": 36}},
    "shape": {"field": "s", "type": "nominal", "scale": {"domain": ["MSE1","MSE2","MSE3","MSE4","ClustalW","1-Blastp"], "range": ["M-3,-0.15H3V0.15H-3Z M0,-0.85L0.85,0L0,0.85L-0.85,0Z","M-3,0H3M-0.65,-0.65H0.65V0.65H-0.65Z","M-3,0H-2.3M-1.8,0H-1.1M1.1,0H1.8M2.3,0H3M0,-0.75L0.8,0.6H-0.8Z","M-3,0H3M-0.7,-0.7L0.7,0.7M-0.7,0.7L0.7,-0.7","M-3,0H3M-0.7,-0.7L0.7,0.7M-0.7,0.7L0.7,-0.7M0,-0.85V0.85","M-3,0H3M0.75,0A0.75,0.75,0,1,1,-0.75,0A0.75,0.75,0,1,1,0.75,0Z"]}, "legend": {"title": null, "orient": "none", "legendX": 250, "legendY": 36}}
  }}
 ]
},
{"data": {"name": "d"}, "title": "(d)", "width": 228, "height": 155,
 "encoding": {
  "x": {"field": "x", "type": "ordinal", "scale": {"type": "band", "domain": [1,2,3,4,5,6,7,8,9,10,11,12,13,14,15], "paddingInner": 0, "paddingOuter": 0}, "axis": {"title": null, "labelAngle": 0, "tickBand": "extent"}},
  "y": {"field": "v", "type": "quantitative", "scale": {"domain": [0, 0.9], "nice": false}, "axis": {"title": null, "values": [0,0.1,0.2,0.3,0.4,0.5,0.6,0.7,0.8,0.9], "format": ".1f"}}
 },
 "layer": [
  {"mark": {"type": "line", "strokeJoin": "round"}, "encoding": {
    "color": {"field": "s", "type": "nominal", "scale": {"domain": ["MSE1","MSE2","MSE3","MSE4","ClustalW","1-Blastp"], "range": ["#4F81BD","#C0504D","#9BBB59","#8064A2","#4BACC6","#F79646"]}},
    "strokeWidth": {"condition": {"test": "datum.s==='MSE1'", "value": 3}, "value": 1.5},
    "strokeDash": {"condition": {"test": "datum.s==='MSE3'", "value": [4,2]}, "value": [1,0]}
  }},
  {"mark": {"type": "point", "filled": true, "size": 45, "strokeWidth": 1.2, "opacity": 1}, "encoding": {
    "color": {"field": "s", "type": "nominal"},
    "stroke": {"field": "s", "type": "nominal", "scale": {"domain": ["MSE1","MSE2","MSE3","MSE4","ClustalW","1-Blastp"], "range": ["#4F81BD","#C0504D","#9BBB59","#8064A2","#4BACC6","#F79646"]}},
    "shape": {"condition": [{"test": "datum.s==='MSE1'", "value": "M0,-1.25L1.25,0L0,1.25L-1.25,0Z"}, {"test": "datum.s==='MSE2'", "value": "M-1,-1H1V1H-1Z"}, {"test": "datum.s==='MSE3'", "value": "M0,-1.15L1.2,0.95H-1.2Z"}, {"test": "datum.s==='MSE4'", "value": "M-1,-1L1,1M-1,1L1,-1"}, {"test": "datum.s==='ClustalW'", "value": "M-1,-1L1,1M-1,1L1,-1M0,-1.3V1.3"}], "value": "circle"}
  }},
  {"transform": [{"filter": "false"}], "mark": {"type": "point", "filled": true}, "encoding": {
    "color": {"field": "s", "type": "nominal", "legend": {"title": null, "orient": "none", "legendX": 250, "legendY": 36}},
    "stroke": {"field": "s", "type": "nominal", "legend": {"title": null, "orient": "none", "legendX": 250, "legendY": 36}},
    "shape": {"field": "s", "type": "nominal", "scale": {"domain": ["MSE1","MSE2","MSE3","MSE4","ClustalW","1-Blastp"], "range": ["M-3,-0.15H3V0.15H-3Z M0,-0.85L0.85,0L0,0.85L-0.85,0Z","M-3,0H3M-0.65,-0.65H0.65V0.65H-0.65Z","M-3,0H-2.3M-1.8,0H-1.1M1.1,0H1.8M2.3,0H3M0,-0.75L0.8,0.6H-0.8Z","M-3,0H3M-0.7,-0.7L0.7,0.7M-0.7,0.7L0.7,-0.7","M-3,0H3M-0.7,-0.7L0.7,0.7M-0.7,0.7L0.7,-0.7M0,-0.85V0.85","M-3,0H3M0.75,0A0.75,0.75,0,1,1,-0.75,0A0.75,0.75,0,1,1,0.75,0Z"]}, "legend": {"title": null, "orient": "none", "legendX": 250, "legendY": 36}}
  }}
 ]
},
{"data": {"name": "e"}, "title": "(e)", "width": 228, "height": 155,
 "encoding": {
  "x": {"field": "x", "type": "ordinal", "scale": {"type": "band", "domain": [1,2,3,4,5,6,7,8,9,10,11,12,13,14,15], "paddingInner": 0, "paddingOuter": 0}, "axis": {"title": null, "labelAngle": 0, "tickBand": "extent"}},
  "y": {"field": "v", "type": "quantitative", "scale": {"domain": [0, 0.9], "nice": false}, "axis": {"title": null, "values": [0,0.1,0.2,0.3,0.4,0.5,0.6,0.7,0.8,0.9], "format": ".1f"}}
 },
 "layer": [
  {"mark": {"type": "line", "strokeJoin": "round"}, "encoding": {
    "color": {"field": "s", "type": "nominal", "scale": {"domain": ["MSE1","MSE2","MSE3","MSE4","ClustalW","1-Blastp"], "range": ["#4F81BD","#C0504D","#9BBB59","#8064A2","#4BACC6","#F79646"]}},
    "strokeWidth": {"condition": {"test": "datum.s==='MSE1'", "value": 3}, "value": 1.5},
    "strokeDash": {"condition": {"test": "datum.s==='MSE3'", "value": [4,2]}, "value": [1,0]}
  }},
  {"mark": {"type": "point", "filled": true, "size": 45, "strokeWidth": 1.2, "opacity": 1}, "encoding": {
    "color": {"field": "s", "type": "nominal"},
    "stroke": {"field": "s", "type": "nominal", "scale": {"domain": ["MSE1","MSE2","MSE3","MSE4","ClustalW","1-Blastp"], "range": ["#4F81BD","#C0504D","#9BBB59","#8064A2","#4BACC6","#F79646"]}},
    "shape": {"condition": [{"test": "datum.s==='MSE1'", "value": "M0,-1.25L1.25,0L0,1.25L-1.25,0Z"}, {"test": "datum.s==='MSE2'", "value": "M-1,-1H1V1H-1Z"}, {"test": "datum.s==='MSE3'", "value": "M0,-1.15L1.2,0.95H-1.2Z"}, {"test": "datum.s==='MSE4'", "value": "M-1,-1L1,1M-1,1L1,-1"}, {"test": "datum.s==='ClustalW'", "value": "M-1,-1L1,1M-1,1L1,-1M0,-1.3V1.3"}], "value": "circle"}
  }},
  {"transform": [{"filter": "false"}], "mark": {"type": "point", "filled": true}, "encoding": {
    "color": {"field": "s", "type": "nominal", "legend": {"title": null, "orient": "none", "legendX": 250, "legendY": 36}},
    "stroke": {"field": "s", "type": "nominal", "legend": {"title": null, "orient": "none", "legendX": 250, "legendY": 36}},
    "shape": {"field": "s", "type": "nominal", "scale": {"domain": ["MSE1","MSE2","MSE3","MSE4","ClustalW","1-Blastp"], "range": ["M-3,-0.15H3V0.15H-3Z M0,-0.85L0.85,0L0,0.85L-0.85,0Z","M-3,0H3M-0.65,-0.65H0.65V0.65H-0.65Z","M-3,0H-2.3M-1.8,0H-1.1M1.1,0H1.8M2.3,0H3M0,-0.75L0.8,0.6H-0.8Z","M-3,0H3M-0.7,-0.7L0.7,0.7M-0.7,0.7L0.7,-0.7","M-3,0H3M-0.7,-0.7L0.7,0.7M-0.7,0.7L0.7,-0.7M0,-0.85V0.85","M-3,0H3M0.75,0A0.75,0.75,0,1,1,-0.75,0A0.75,0.75,0,1,1,0.75,0Z"]}, "legend": {"title": null, "orient": "none", "legendX": 250, "legendY": 36}}
  }}
 ]
},
{"data": {"name": "f"}, "title": "(f)", "width": 228, "height": 155,
 "encoding": {
  "x": {"field": "x", "type": "ordinal", "scale": {"type": "band", "domain": [1,2,3,4,5,6,7,8,9,10,11,12,13,14,15], "paddingInner": 0, "paddingOuter": 0}, "axis": {"title": null, "labelAngle": 0, "tickBand": "extent"}},
  "y": {"field": "v", "type": "quantitative", "scale": {"domain": [0, 0.6], "nice": false}, "axis": {"title": null, "values": [0,0.1,0.2,0.3,0.4,0.5,0.6], "format": ".1f"}}
 },
 "layer": [
  {"mark": {"type": "line", "strokeJoin": "round"}, "encoding": {
    "color": {"field": "s", "type": "nominal", "scale": {"domain": ["MSE1","MSE2","MSE3","MSE4","ClustalW","1-Blastp"], "range": ["#4F81BD","#C0504D","#9BBB59","#8064A2","#4BACC6","#F79646"]}},
    "strokeWidth": {"condition": {"test": "datum.s==='MSE1'", "value": 3}, "value": 1.5},
    "strokeDash": {"condition": {"test": "datum.s==='MSE3'", "value": [4,2]}, "value": [1,0]}
  }},
  {"mark": {"type": "point", "filled": true, "size": 45, "strokeWidth": 1.2, "opacity": 1}, "encoding": {
    "color": {"field": "s", "type": "nominal"},
    "stroke": {"field": "s", "type": "nominal", "scale": {"domain": ["MSE1","MSE2","MSE3","MSE4","ClustalW","1-Blastp"], "range": ["#4F81BD","#C0504D","#9BBB59","#8064A2","#4BACC6","#F79646"]}},
    "shape": {"condition": [{"test": "datum.s==='MSE1'", "value": "M0,-1.25L1.25,0L0,1.25L-1.25,0Z"}, {"test": "datum.s==='MSE2'", "value": "M-1,-1H1V1H-1Z"}, {"test": "datum.s==='MSE3'", "value": "M0,-1.15L1.2,0.95H-1.2Z"}, {"test": "datum.s==='MSE4'", "value": "M-1,-1L1,1M-1,1L1,-1"}, {"test": "datum.s==='ClustalW'", "value": "M-1,-1L1,1M-1,1L1,-1M0,-1.3V1.3"}], "value": "circle"}
  }},
  {"transform": [{"filter": "false"}], "mark": {"type": "point", "filled": true}, "encoding": {
    "color": {"field": "s", "type": "nominal", "legend": {"title": null, "orient": "none", "legendX": 250, "legendY": 36}},
    "stroke": {"field": "s", "type": "nominal", "legend": {"title": null, "orient": "none", "legendX": 250, "legendY": 36}},
    "shape": {"field": "s", "type": "nominal", "scale": {"domain": ["MSE1","MSE2","MSE3","MSE4","ClustalW","1-Blastp"], "range": ["M-3,-0.15H3V0.15H-3Z M0,-0.85L0.85,0L0,0.85L-0.85,0Z","M-3,0H3M-0.65,-0.65H0.65V0.65H-0.65Z","M-3,0H-2.3M-1.8,0H-1.1M1.1,0H1.8M2.3,0H3M0,-0.75L0.8,0.6H-0.8Z","M-3,0H3M-0.7,-0.7L0.7,0.7M-0.7,0.7L0.7,-0.7","M-3,0H3M-0.7,-0.7L0.7,0.7M-0.7,0.7L0.7,-0.7M0,-0.85V0.85","M-3,0H3M0.75,0A0.75,0.75,0,1,1,-0.75,0A0.75,0.75,0,1,1,0.75,0Z"]}, "legend": {"title": null, "orient": "none", "legendX": 250, "legendY": 36}}
  }}
 ]
}
],
"config": {
 "view": {"stroke": null},
 "axis": {"labelFont": "Liberation Sans", "labelFontSize": 9, "labelColor": "#222222", "domainColor": "#868686", "domainWidth": 1, "tickColor": "#868686", "tickSize": 4, "labelPadding": 3, "gridColor": "#868686", "gridWidth": 1.4},
 "axisX": {"grid": false},
 "axisY": {"grid": true},
 "legend": {"symbolSize": 100, "symbolStrokeWidth": 1.5, "symbolOpacity": 1, "labelOffset": 11, "rowPadding": 3, "labelFont": "Liberation Sans", "labelFontSize": 10, "labelColor": "#222222"},
 "title": {"orient": "bottom", "font": "Liberation Serif", "fontSize": 16, "fontWeight": "normal", "color": "#222222", "offset": 8, "anchor": "middle"}
}
}
